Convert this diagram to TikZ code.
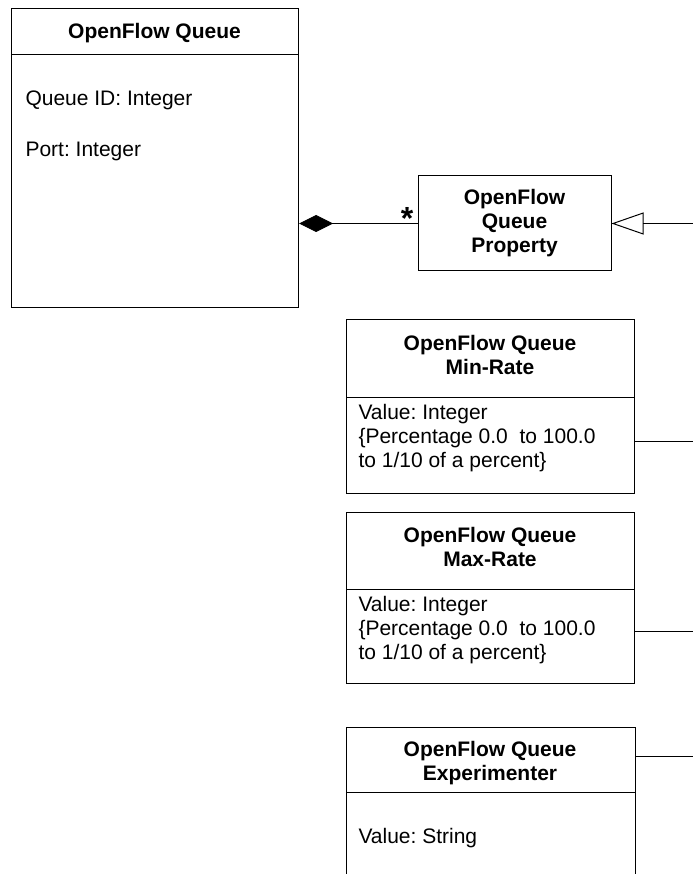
\documentclass[tikz,border=0pt]{standalone}
\usepackage{fontspec}
\setmainfont{Liberation Sans}
\usetikzlibrary{arrows.meta}
\frenchspacing

\begin{document}
\begin{tikzpicture}[x=1pt, y=-1pt, line width=1pt,
  every node/.style={font=\fontsize{21}{24}\selectfont, inner sep=0pt},
  classbox/.style={draw, rectangle, anchor=north west},
  title/.style={font=\fontsize{21}{24}\selectfont\bfseries, align=center},
  attr/.style={align=left, anchor=base west}]
  \useasboundingbox (0,0) rectangle (693,874);
  \coordinate (bus) at (693,0);
  % queue class
  \node [classbox, minimum width=287, minimum height=299] (queue) at (11,8) {};
  \draw ([yshift=-47pt]queue.north west) -- ([yshift=-47pt]queue.north east);
  \node [title, anchor=base] (qname) at (154.5,39) {OpenFlow Queue};
  \node [attr] (qid) at (25,106) {Queue ID: Integer};
  \node [attr] (qport) at (25,157) {Port: Integer};
  % property class
  \node [draw, title, minimum width=193, minimum height=95] (prop) at (514.5,223.5) {OpenFlow\\Queue\\Property};
  \draw [{Diamond[length=34pt, width=17pt]}-] (queue.east |- prop.west) -- (prop.west);
  \node [font=\fontsize{32}{32}\selectfont\bfseries, anchor=base] (many) at (407,230) {*};
  \draw [{Triangle[open, length=32pt, width=22pt]}-] (prop.east) -- (bus |- prop.east);
  % min rate
  \node [classbox, minimum width=288, minimum height=174] (minrate) at (346,319) {};
  \draw ([yshift=-78pt]minrate.north west) -- ([yshift=-78pt]minrate.north east);
  \node [title, anchor=base] (minname) at (490,374) {OpenFlow Queue\\Min-Rate};
  \node [attr] (minval) at (358,467) {Value: Integer\\\{Percentage 0.0~ to 100.0\\to 1/10 of a percent\}};
  \coordinate (minend) at (693,441);
  \draw (minrate.east |- minend) -- (minend);
  % max rate
  \node [classbox, minimum width=288, minimum height=171] (maxrate) at (346,512) {};
  \draw ([yshift=-77pt]maxrate.north west) -- ([yshift=-77pt]maxrate.north east);
  \node [title, anchor=base] (maxname) at (490,566) {OpenFlow Queue\\Max-Rate};
  \node [attr] (maxval) at (358,659) {Value: Integer\\\{Percentage 0.0~ to 100.0\\to 1/10 of a percent\}};
  \coordinate (maxend) at (693,631);
  \draw (maxrate.east |- maxend) -- (maxend);
  % experimenter
  \node [classbox, draw=none, minimum width=288, minimum height=147] (expr) at (346,727) {};
  \draw (expr.south west) -- (expr.north west) -- (expr.north east) -- (expr.south east);
  \draw ([yshift=-65pt]expr.north west) -- ([yshift=-65pt]expr.north east);
  \node [title, anchor=base] (exprname) at (490,780) {OpenFlow Queue\\Experimenter};
  \node [attr] (exprval) at (358,843) {Value: String};
  \coordinate (exprend) at (693,756);
  \draw (expr.east |- exprend) -- (exprend);
\end{tikzpicture}
\end{document}
